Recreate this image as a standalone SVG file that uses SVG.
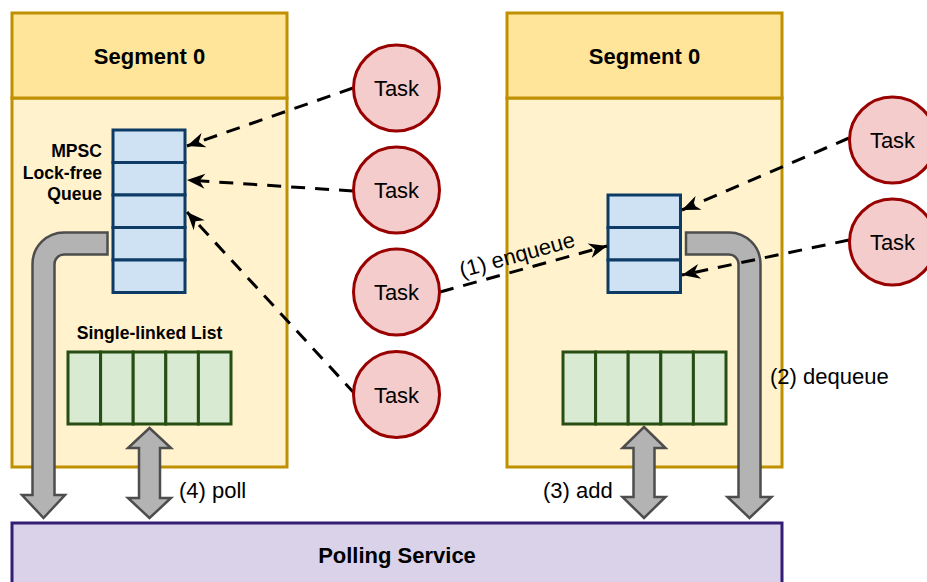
<svg xmlns="http://www.w3.org/2000/svg" width="927" height="582" viewBox="0 0 927 582">
<defs>
<style>
.seg-h{fill:#FFE599;stroke:#BF9000;stroke-width:3}
.seg-b{fill:#FFF2CC;stroke:#BF9000;stroke-width:3}
.q{fill:#CFE2F3;stroke:#0D3B66;stroke-width:3}
.l{fill:#D9EAD3;stroke:#274E13;stroke-width:3}
.task{fill:#F4CCCC;stroke:#990000;stroke-width:3}
.poll{fill:#D9D2E9;stroke:#351C75;stroke-width:3}
.big{fill:#B3B3B3;stroke:#4D4D4D;stroke-width:2.5;stroke-linejoin:miter}
.dash{fill:none;stroke:#000;stroke-width:3;stroke-dasharray:14 10;marker-end:url(#ah)}
.tb{font-family:"Liberation Sans",Arial,sans-serif;font-weight:bold;fill:#000}
.t{font-family:"Liberation Sans",Arial,sans-serif;fill:#000;font-size:22px}
</style>
<marker id="ah" markerUnits="userSpaceOnUse" viewBox="-20 -10 22 20" markerWidth="22" markerHeight="20" refX="0" refY="0" orient="auto">
<path d="M0,0 L-18,-7.5 L-12.5,0 L-18,7.5 Z" fill="#000"/>
</marker>
</defs>
<rect width="927" height="582" fill="#fff"/>

<g id="segment-left">
<rect class="seg-b" x="12" y="98" width="275" height="369"/>
<rect class="seg-h" x="12" y="13" width="275" height="85"/>
<text class="tb" x="149.5" y="64" font-size="22" text-anchor="middle">Segment 0</text>
</g>
<g id="segment-right">
<rect class="seg-b" x="507" y="98" width="275" height="369"/>
<rect class="seg-h" x="507" y="13" width="275" height="85"/>
<text class="tb" x="644.5" y="64" font-size="22" text-anchor="middle">Segment 0</text>
</g>

<g id="queue-left">
<rect class="q" x="113" y="130" width="72" height="32.5"/>
<rect class="q" x="113" y="162.5" width="72" height="32.5"/>
<rect class="q" x="113" y="195" width="72" height="32.5"/>
<rect class="q" x="113" y="227.5" width="72" height="32.5"/>
<rect class="q" x="113" y="260" width="72" height="32.5"/>
<text class="tb" font-size="17.6" text-anchor="end"><tspan x="102" y="157">MPSC</tspan><tspan x="102" y="178.5">Lock-free</tspan><tspan x="102" y="200">Queue</tspan></text>
</g>
<g id="queue-right">
<rect class="q" x="608" y="195" width="72.5" height="32.5"/>
<rect class="q" x="608" y="227.5" width="72.5" height="32.5"/>
<rect class="q" x="608" y="260" width="72.5" height="32.5"/>
</g>

<g id="list-left">
<text class="tb" x="149.5" y="339" font-size="17.6" text-anchor="middle">Single-linked List</text>
<rect class="l" x="68" y="352" width="32.6" height="72"/>
<rect class="l" x="100.6" y="352" width="32.6" height="72"/>
<rect class="l" x="133.2" y="352" width="32.6" height="72"/>
<rect class="l" x="165.8" y="352" width="32.6" height="72"/>
<rect class="l" x="198.4" y="352" width="32.6" height="72"/>
</g>
<g id="list-right">
<rect class="l" x="563" y="352" width="32.6" height="72"/>
<rect class="l" x="595.6" y="352" width="32.6" height="72"/>
<rect class="l" x="628.2" y="352" width="32.6" height="72"/>
<rect class="l" x="660.8" y="352" width="32.6" height="72"/>
<rect class="l" x="693.4" y="352" width="32.6" height="72"/>
</g>

<g id="polling-service">
<rect class="poll" x="12" y="523" width="770" height="75"/>
<text class="tb" x="397" y="563" font-size="22" text-anchor="middle">Polling Service</text>
</g>

<g id="connectors">
<path class="big" d="M107.5,232.5 L64,232.5 A31.5,31.5 0 0 0 32.5,264 L32.5,495 L22,495 L43.5,518 L65,495 L54.5,495 L54.5,264 A9.5,9.5 0 0 1 64,254.5 L107.5,254.5 Z"/>
<path class="big" d="M686,232.5 L729,232.5 A31.5,31.5 0 0 1 760.5,264 L760.5,497 L771.5,497 L749.5,518 L727.5,497 L738.5,497 L738.5,264 A9.5,9.5 0 0 0 729,254.5 L686,254.5 Z"/>
<path class="big" d="M149.5,428 L171,448 L160,448 L160,498 L171,498 L149.5,518 L128,498 L139,498 L139,448 L128,448 Z"/>
<path class="big" d="M644,427 L665.5,448 L654.5,448 L654.5,497 L665.5,497 L644,518 L622.5,497 L633.5,497 L633.5,448 L622.5,448 Z"/>
<line class="dash" x1="353" y1="88" x2="187" y2="146"/>
<line class="dash" x1="353" y1="191" x2="187" y2="180"/>
<line class="dash" x1="355" y1="394" x2="187" y2="212"/>
<line class="dash" x1="440" y1="292" x2="607" y2="246"/>
<line class="dash" x1="849" y1="138" x2="682" y2="210"/>
<line class="dash" x1="849" y1="240" x2="682" y2="275"/>
<text class="t" x="519" y="262" text-anchor="middle" transform="rotate(-15.4 519 262)">(1) enqueue</text>
<text class="t" x="770" y="384">(2) dequeue</text>
<text class="t" x="543" y="498">(3) add</text>
<text class="t" x="179" y="498">(4) poll</text>
</g>

<g id="task-1"><circle class="task" cx="396.5" cy="88" r="43"/><text class="t" x="396.5" y="96" text-anchor="middle">Task</text></g>
<g id="task-2"><circle class="task" cx="396.5" cy="190" r="43"/><text class="t" x="396.5" y="198" text-anchor="middle">Task</text></g>
<g id="task-3"><circle class="task" cx="396.5" cy="292" r="43"/><text class="t" x="396.5" y="300" text-anchor="middle">Task</text></g>
<g id="task-4"><circle class="task" cx="396.5" cy="394.5" r="43"/><text class="t" x="396.5" y="402.5" text-anchor="middle">Task</text></g>
<g id="task-5"><circle class="task" cx="892.5" cy="140" r="43"/><text class="t" x="892.5" y="148" text-anchor="middle">Task</text></g>
<g id="task-6"><circle class="task" cx="892.5" cy="242" r="43"/><text class="t" x="892.5" y="250" text-anchor="middle">Task</text></g>
</svg>
